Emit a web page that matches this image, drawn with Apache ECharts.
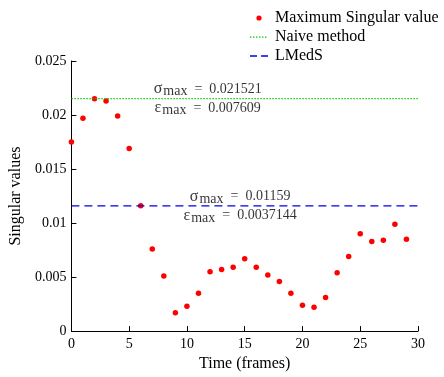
<!DOCTYPE html>
<html><head><meta charset="utf-8">
<script src="https://cdn.jsdelivr.net/npm/echarts@6/dist/echarts.min.js"></script>
<style>html,body{margin:0;padding:0;background:#fff}#c{width:444px;height:377px}</style>
</head><body><div id="c"></div>
<script>
var frames = [0,1,2,3,4,5,6,7,8,9,10,11,12,13,14,15,16,17,18,19,20,21,22,23,24,25,26,27,28,29];
var singularValues = [0.0175,0.0197,0.02151,0.0213,0.0199,0.0169,0.0116,0.0076,0.0051,0.0017,0.0023,0.0035,0.0055,0.0057,0.0059,0.0067,0.0059,0.0052,0.0046,0.0035,0.0024,0.0022,0.0031,0.0054,0.0069,0.0090,0.0083,0.0084,0.0099,0.0085];
var naiveSigma = 0.021521, naiveEps = 0.007609;
var lmedsSigma = 0.01159, lmedsEps = 0.0037144;
var xTicks = [0,5,10,15,20,25,30];
var yTicks = [0,0.005,0.01,0.015,0.02,0.025];

var font = '"Liberation Serif", "DejaVu Serif", serif';
var chart = echarts.init(document.getElementById('c'));
function annot(sig, eps){
  return '{g|σ}{sub|max}{t|  =  ' + sig + '}\n{g|ε}{sub|max}{t|  =  ' + eps + '}';
}
var rich = {
  g:{fontFamily:font,fontSize:16,color:'#000',lineHeight:19},
  sub:{fontFamily:font,fontSize:14,color:'#000',lineHeight:19,padding:[5,0,0,1]},
  t:{fontFamily:font,fontSize:14,color:'#000',lineHeight:19}
};
var dotIcon = 'path://M0,0M18,14M11.6,7a2.6,2.6 0 1,0 -5.2,0a2.6,2.6 0 1,0 5.2,0z';
var dottedIcon = 'path://M0,0M18,14' + (function(){var s='';for(var i=0;i<6;i++){s+='M'+(i*3)+',6.5h1.4v1.2h-1.4z';}return s;})();
var dashedIcon = 'path://M0,0M18,14M0,6.3h7v1.5h-7zM11,6.3h7v1.5h-7z';
chart.setOption({
  animation:false,
  textStyle:{fontFamily:font},
  grid:{left:68,right:26,top:61,bottom:41},
  legend:{
    orient:'vertical', left:245, top:5, itemGap:3, itemWidth:18, itemHeight:14,
    textStyle:{fontFamily:font,fontSize:16,color:'#000',padding:[0,0,0,2]},
    data:[
      {name:'Maximum Singular value',icon:dotIcon},
      {name:'Naive method',icon:dottedIcon},
      {name:'LMedS',icon:dashedIcon}
    ]
  },
  xAxis:{
    type:'value', min:0, max:30, interval:5,
    name:'Time (frames)', nameLocation:'middle', nameGap:19,
    nameTextStyle:{fontFamily:font,fontSize:16,color:'#000'},
    axisLine:{lineStyle:{color:'#000',width:1}},
    axisTick:{inside:true,length:5,lineStyle:{color:'#000'}},
    axisLabel:{fontFamily:font,fontSize:14,color:'#000',margin:6},
    splitLine:{show:false}
  },
  yAxis:{
    type:'value', min:0, max:0.025, interval:0.005,
    name:'Singular values', nameLocation:'middle', nameGap:43,
    nameTextStyle:{fontFamily:font,fontSize:16,color:'#000'},
    axisLine:{show:true,lineStyle:{color:'#000',width:1}},
    axisTick:{show:true,inside:true,length:5,lineStyle:{color:'#000'}},
    axisLabel:{fontFamily:font,fontSize:14,color:'#000',margin:5,
      formatter:function(v){return v===0?'0':String(+v.toFixed(3));}},
    splitLine:{show:false}
  },
  series:[
    {name:'Maximum Singular value',type:'scatter',symbol:'circle',symbolSize:5.5,
     itemStyle:{color:'#ff0000',opacity:1},
     data:frames.map(function(f,i){return [f,singularValues[i]];})},
    {name:'Naive method',type:'line',symbol:'none',
     lineStyle:{color:'#00c800',type:[1.4,1.6],width:1.3},itemStyle:{color:'#00c800'},
     data:[[0,naiveSigma],[30,naiveSigma]]},
    {name:'LMedS',type:'line',symbol:'none',
     lineStyle:{color:'#0000e0',type:[8,5],width:1.4},itemStyle:{color:'#0000e0'},
     data:[[0,lmedsSigma],[30,lmedsSigma]]},
    {name:'annot',type:'scatter',symbolSize:0,silent:true,
     label:{show:true,position:'inside',formatter:function(p){return p.data[2];},rich:rich},
     data:[[11.8,naiveSigma,annot(naiveSigma,naiveEps)],[14.6,lmedsSigma,annot(lmedsSigma,lmedsEps)]]}
  ]
});
</script></body></html>
